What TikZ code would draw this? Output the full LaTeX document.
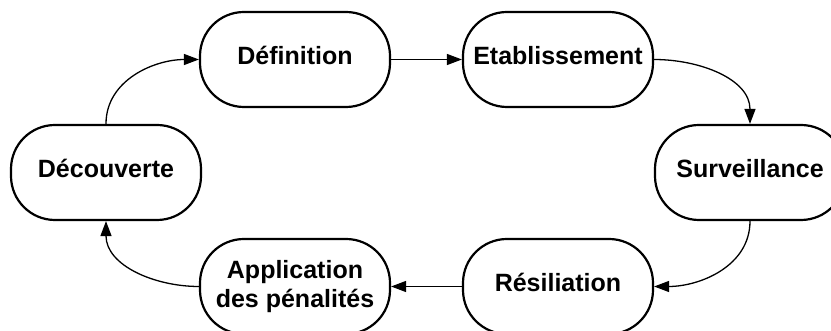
\documentclass[tikz,border=0pt]{standalone}
\usepackage{fontspec}
\setmainfont{Liberation Sans}
\usetikzlibrary{arrows.meta}
\begin{document}
\begin{tikzpicture}[x=1pt,y=1pt,
  phase/.style={draw, line width=2.2pt, rounded corners=44pt,
    minimum width=190pt, minimum height=95pt, inner sep=0pt,
    font=\fontsize{25}{29}\selectfont\bfseries, align=center},
  oneline/.style={phase, text height=18pt, text depth=8pt},
  flow/.style={line width=1.3pt, -{Triangle[length=15pt,width=11pt]}}]
\clip (0,0) rectangle (831,331);

% the six phases of the cycle
\node[oneline] (def)  at (295,271.5) {Définition};
\node[oneline] (etab) at (558,271.5) {Etablissement};
\node[oneline] (surv) at (750,158.5) {Surveillance};
\node[oneline] (res)  at (558,44.5)  {Résiliation};
\node[phase]   (app)  at (295,44.5)  {Application\\des pénalités};
\node[oneline] (dec)  at (106,158.5) {Découverte};

% transitions between phases
\draw[flow] (dec.north) to[out=90,in=180] (def.west);
\draw[flow] (def.east) -- (etab.west);
\draw[flow] (etab.east) to[out=0,in=90] (surv.north);
\draw[flow] (surv.south) to[out=-90,in=0] (res.east);
\draw[flow] (res.west) -- (app.east);
\draw[flow] (app.west) to[out=180,in=-90] (dec.south);
\end{tikzpicture}
\end{document}
